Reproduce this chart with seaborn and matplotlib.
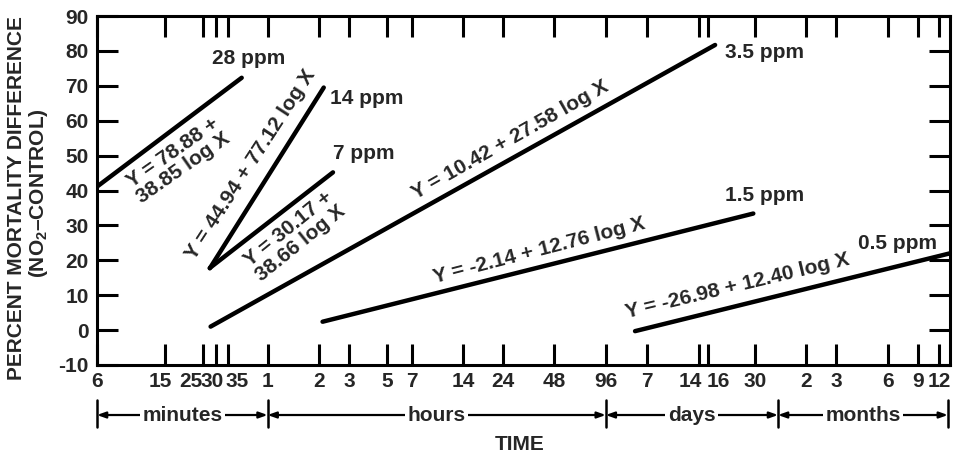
import numpy as np
import pandas as pd
import matplotlib
matplotlib.use("Agg")
import matplotlib.pyplot as plt
from matplotlib import transforms
from matplotlib.ticker import NullLocator
import seaborn as sns

# ---------------- data ----------------
conc = ["28 ppm", "14 ppm", "7 ppm", "3.5 ppm", "1.5 ppm", "0.5 ppm"]
start_min = [6, 27.5, 27.5, 27.8, 126, 8550]
start_y = [41.1, 17.7, 17.8, 1.0, 2.4, -0.3]
end_min = [42.3, 128, 145, 25190, 42190, 600000]
end_y = [72.3, 69.5, 45.2, 81.7, 33.4, 22.0]
equations = ["Y = 78.88 +\n38.85 log X", "Y = 44.94 + 77.12 log X",
             "Y = 30.17 +\n38.66 log X", "Y = 10.42 + 27.58 log X",
             "Y = -2.14 + 12.76 log X", "Y = -26.98 + 12.40 log X"]

xtick_minutes = [6, 15, 25, 30, 35, 60, 120, 180, 300, 420, 840, 1440, 2880,
                 5760, 10080, 20160, 23040, 43200, 86400, 129600, 259200,
                 388800, 518400]
xtick_labels = ["6", "15", "25", "30", "35", "1", "2", "3", "5", "7", "14",
                "24", "48", "96", "7", "14", "16", "30", "2", "3", "6", "9", "12"]
ytick_vals = list(range(-10, 91, 10))
ytick_labels = ["-10"] + [str(v) for v in range(0, 91, 10)]
unit_names = ["minutes", "hours", "days", "months"]
unit_bounds = [6, 60, 5760, 58900, 583000]

df = pd.DataFrame({
    "conc": conc + conc,
    "minutes": start_min + end_min,
    "mortality": start_y + end_y,
})

# ---------------- style ----------------
sns.set_style("ticks")
plt.rcParams["font.family"] = ["Liberation Sans", "DejaVu Sans"]
plt.rcParams["font.weight"] = "bold"
plt.rcParams["mathtext.fontset"] = "custom"
plt.rcParams["mathtext.rm"] = "Liberation Sans:bold"
plt.rcParams["mathtext.bf"] = "Liberation Sans:bold"
plt.rcParams["mathtext.it"] = "Liberation Sans:bold"
FS = 15

fig = plt.figure(figsize=(9.59, 4.54), dpi=100)
ax = fig.add_axes([97 / 959, (454 - 365) / 454, (950 - 97) / 959, (365 - 16) / 454])

sns.lineplot(data=df, x="minutes", y="mortality", units="conc", estimator=None,
             sort=False, color="black", lw=3.2, ax=ax, legend=False)
for ln in ax.lines:
    ln.set_solid_capstyle("round")

ax.set_xscale("log")
ax.set_xlim(6, 6e5)
ax.set_ylim(-10, 90)
ax.set_xticks(xtick_minutes)
ax.set_xticklabels(xtick_labels, fontsize=FS, fontweight="bold")
ax.xaxis.set_minor_locator(NullLocator())
ax.set_yticks(ytick_vals)
ax.set_yticklabels(ytick_labels, fontsize=FS, fontweight="bold")
ax.set_xlabel("")
ax.set_ylabel("")
ax.xaxis.set_ticks_position("both")
ax.yaxis.set_ticks_position("both")
ax.tick_params(axis="both", which="major", direction="in", length=15,
               width=2.2, color="black")
ax.tick_params(axis="y", pad=6)
ax.tick_params(axis="x", pad=5)
for sp in ax.spines.values():
    sp.set_linewidth(2.2)
    sp.set_color("black")

# nudge crowded x tick labels like in the original
nudges = {1: -5, 2: -12, 3: -4, 4: 9, 15: -8, 16: 10}
for i, lab in enumerate(ax.get_xticklabels()):
    if i in nudges:
        lab.set_transform(lab.get_transform() +
                          transforms.ScaledTranslation(nudges[i] / 100, 0, fig.dpi_scale_trans))

# ---------------- annotations ----------------
eq_pos = [(17.9, 48.7, 35), (48, 47.3, 57), (85.7, 26.9, 39),
          (1582, 54.4, 29.5), (2339, 22.9, 14.5), (33830, 12.6, 13.5)]
for s, (x, y, r) in zip(equations, eq_pos):
    ax.text(x, y, s, rotation=r, rotation_mode="anchor", ha="center", va="center",
            fontsize=FS, fontweight="bold", linespacing=1.0, multialignment="center")

lab_pos = [(28.3, 77.9), (139, 66.5), (145, 50.7), (28800, 79.4), (28800, 38.7), (173400, 24.9)]
for s, (x, y) in zip(conc, lab_pos):
    ax.text(x, y, s, ha="left", va="center", fontsize=FS, fontweight="bold")

# ---------------- time-unit brackets ----------------
trans = transforms.blended_transform_factory(ax.transData, ax.transAxes)
yrow = -0.1433
for bx in unit_bounds:
    ax.plot([bx, bx], [-0.100, -0.178], transform=trans, clip_on=False,
            color="black", lw=1.8)
for i, name in enumerate(unit_names):
    a, b = unit_bounds[i], unit_bounds[i + 1]
    ax.annotate("", xy=(b, yrow), xytext=(a, yrow), xycoords=trans, textcoords=trans,
                arrowprops=dict(arrowstyle="<|-|>,head_length=0.5,head_width=0.18",
                                lw=1.6, color="black", shrinkA=0, shrinkB=0),
                annotation_clip=False)
    ax.text(np.sqrt(a * b), yrow, name, transform=trans, ha="center", va="center",
            fontsize=FS, fontweight="bold", zorder=5,
            bbox=dict(facecolor="white", edgecolor="none", pad=2))

fig.text(520 / 959, 1 - 445 / 454, "TIME", ha="center", va="center",
         fontsize=FS, fontweight="bold")
fig.text(16.5 / 959, 1 - 198.5 / 454, "PERCENT MORTALITY DIFFERENCE", rotation=90,
         ha="center", va="center", fontsize=FS, fontweight="bold")
fig.text(39 / 959, 1 - 193 / 454, "(NO$_2$–CONTROL)", rotation=90,
         ha="center", va="center", fontsize=FS, fontweight="bold")

fig.savefig("out.png", dpi=100, facecolor="white")
